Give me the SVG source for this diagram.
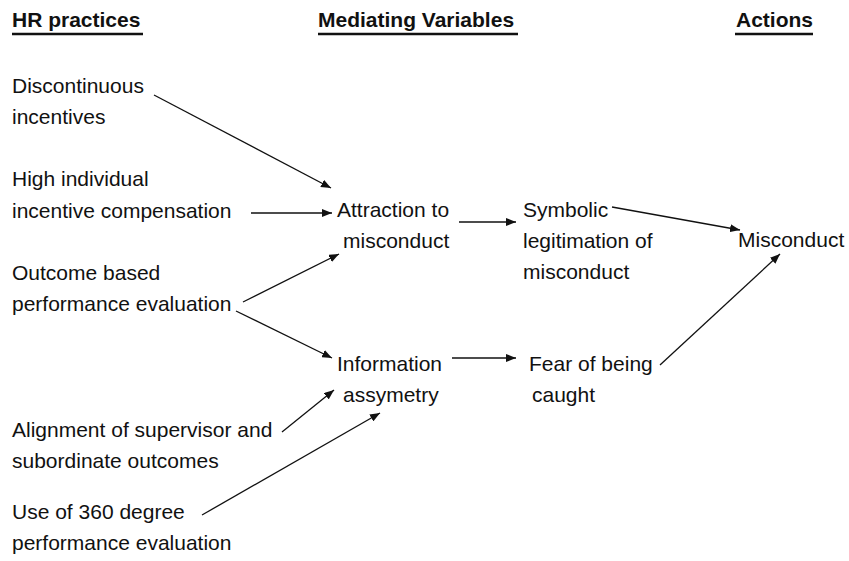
<svg xmlns="http://www.w3.org/2000/svg" width="849" height="561" viewBox="0 0 849 561">
<style>
text{font-family:"Liberation Sans",Arial,sans-serif;font-size:21px;fill:#111}
.h{font-weight:bold}
.ul{stroke:#111;stroke-width:2.5}
.c{stroke:#111;stroke-width:1.3;fill:none;marker-end:url(#ah)}
</style>
<defs>
<marker id="ah" viewBox="0 0 10 8" refX="10" refY="4" markerWidth="10" markerHeight="8" markerUnits="userSpaceOnUse" orient="auto">
<path d="M0,0 L10,4 L0,8 Z" fill="#111"/>
</marker>
</defs>
<rect width="849" height="561" fill="#fff"/>
<g id="headers">
<text class="h" x="12" y="27">HR practices</text>
<line class="ul" x1="12" y1="34" x2="143" y2="34"/>
<text class="h" x="318" y="27">Mediating Variables</text>
<line class="ul" x1="318" y1="34" x2="518" y2="34"/>
<text class="h" x="736" y="27">Actions</text>
<line class="ul" x1="735" y1="34" x2="813" y2="34"/>
</g>
<g id="n-discontinuous"><text x="12" y="93">Discontinuous</text><text x="12" y="124">incentives</text></g>
<g id="n-high"><text x="12" y="186">High individual</text><text x="12" y="218">incentive compensation</text></g>
<g id="n-outcome"><text x="12" y="280">Outcome based</text><text x="12" y="311">performance evaluation</text></g>
<g id="n-alignment"><text x="12" y="437">Alignment of supervisor and</text><text x="12" y="468">subordinate outcomes</text></g>
<g id="n-360"><text x="12" y="519">Use of 360 degree</text><text x="12" y="550">performance evaluation</text></g>
<g id="n-attraction"><text x="337" y="217">Attraction to</text><text x="343" y="248">misconduct</text></g>
<g id="n-information"><text x="337" y="371">Information</text><text x="343" y="402">assymetry</text></g>
<g id="n-symbolic"><text x="523" y="217">Symbolic</text><text x="523" y="248">legitimation of</text><text x="523" y="279">misconduct</text></g>
<g id="n-fear"><text x="529" y="371">Fear of being</text><text x="532" y="402">caught</text></g>
<g id="n-misconduct"><text x="738" y="247">Misconduct</text></g>
<g id="connectors">
<line class="c" x1="154" y1="95" x2="331" y2="188"/>
<line class="c" x1="251" y1="213" x2="332" y2="213"/>
<line class="c" x1="243" y1="302" x2="339" y2="254"/>
<line class="c" x1="236" y1="311" x2="332" y2="358"/>
<line class="c" x1="459" y1="222" x2="516" y2="222"/>
<line class="c" x1="452" y1="358" x2="516" y2="358"/>
<line class="c" x1="282" y1="432" x2="334" y2="390"/>
<line class="c" x1="202" y1="515" x2="380" y2="413"/>
<line class="c" x1="612" y1="207" x2="740" y2="230"/>
<line class="c" x1="660" y1="365" x2="780" y2="254"/>
</g>
</svg>
